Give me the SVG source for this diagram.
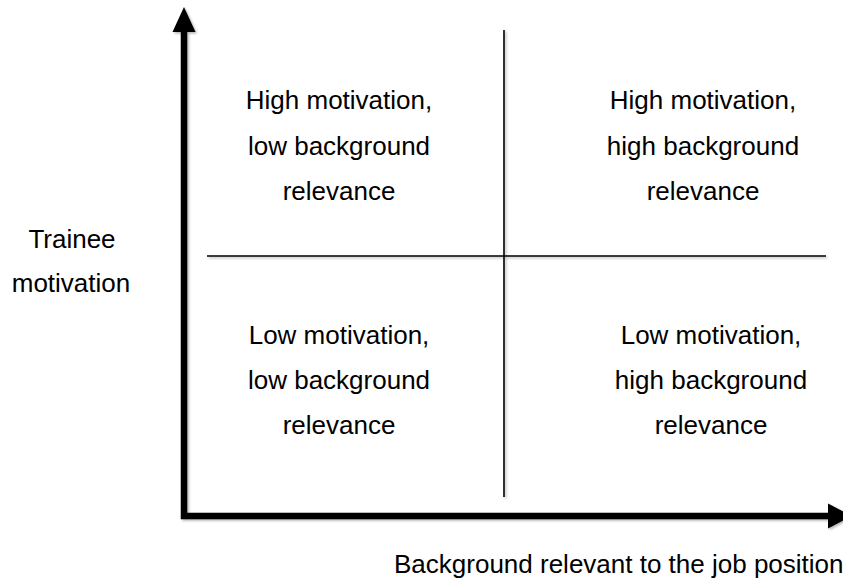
<svg xmlns="http://www.w3.org/2000/svg" width="843" height="580" viewBox="0 0 843 580">
  <defs>
    <style>
      text { font-family: "Liberation Sans", Arial, Helvetica, sans-serif; font-size: 26px; fill: #000; }
      .c { text-anchor: middle; }
      .axis { stroke: #000; stroke-width: 6.5; fill: none; }
      .div { stroke: #000; stroke-width: 1.6; fill: none; }
      .head { fill: #000; }
    </style>
    <filter id="sh" x="-10%" y="-10%" width="120%" height="120%">
      <feDropShadow dx="1.5" dy="1.5" stdDeviation="1.2" flood-color="#000" flood-opacity="0.3"/>
    </filter>
  </defs>
  <rect width="843" height="580" fill="#fff"/>

  <g id="connectors" filter="url(#sh)">
    <line class="div" x1="504" y1="30" x2="504" y2="497"/>
    <line class="div" x1="207" y1="256" x2="826" y2="256"/>
    <polyline class="axis" points="184,30 184,516 830,516" stroke-linejoin="miter"/>
    <polygon class="head" points="184,7 172.5,32 195.5,32"/>
    <polygon class="head" points="852,516 828,503.5 828,528.5"/>
  </g>

  <g id="q-high-low">
    <text class="c" x="339" y="109">High motivation,</text>
    <text class="c" x="339" y="155">low background</text>
    <text class="c" x="339" y="200">relevance</text>
  </g>
  <g id="q-high-high">
    <text class="c" x="703" y="109">High motivation,</text>
    <text class="c" x="703" y="155">high background</text>
    <text class="c" x="703" y="200">relevance</text>
  </g>
  <g id="q-low-low">
    <text class="c" x="339" y="344">Low motivation,</text>
    <text class="c" x="339" y="389">low background</text>
    <text class="c" x="339" y="434">relevance</text>
  </g>
  <g id="q-low-high">
    <text class="c" x="711" y="344">Low motivation,</text>
    <text class="c" x="711" y="389">high background</text>
    <text class="c" x="711" y="434">relevance</text>
  </g>
  <g id="y-label">
    <text class="c" x="72" y="248">Trainee</text>
    <text class="c" x="71" y="292">motivation</text>
  </g>
  <g id="x-label">
    <text x="394" y="573">Background relevant to the job position</text>
  </g>
</svg>
